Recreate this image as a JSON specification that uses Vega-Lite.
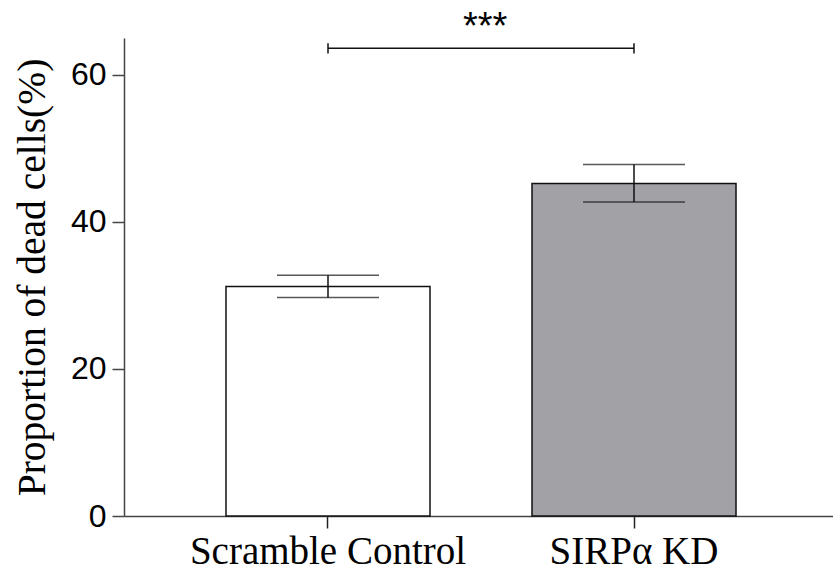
{
  "$schema": "https://vega.github.io/schema/vega-lite/v6.json",
  "width": 714,
  "height": 478,
  "autosize": {"type": "none"},
  "padding": {"left": 124, "top": 38, "right": 0, "bottom": 65},
  "background": "white",
  "config": {
    "view": {"stroke": null},
    "axis": {"grid": false}
  },
  "datasets": {
    "bars": [
      {"group": "Scramble Control", "mean": 31.2, "lo": 29.7, "hi": 32.75},
      {"group": "SIRPα KD", "mean": 45.2, "lo": 42.7, "hi": 47.8}
    ],
    "sig": [
      {"from": "Scramble Control", "to": "SIRPα KD", "y": 63.6, "ylo": 62.9, "yhi": 64.3, "label": "***", "ty": 66.3}
    ]
  },
  "layer": [
    {
      "data": {"name": "bars"},
      "mark": {"type": "bar", "stroke": "#111111", "strokeWidth": 1.5},
      "encoding": {
        "x": {
          "field": "group", "type": "nominal", "sort": null,
          "scale": {"type": "band", "domain": ["Scramble Control", "SIRPα KD"], "paddingInner": 0.3333, "paddingOuter": 0.3333},
          "axis": {
            "title": null, "labelAngle": 0, "labelFont": "Liberation Serif", "labelFontSize": 39, "labelLimit": 0,
            "labelColor": "#000000", "labelPadding": 4, "tickSize": 12, "tickWidth": 1.5, "tickColor": "#222222",
            "domainColor": "#444444", "domainWidth": 1.5
          }
        },
        "y": {
          "field": "mean", "type": "quantitative",
          "scale": {"domain": [0, 65], "nice": false, "zero": true},
          "axis": {
            "title": "Proportion of dead cells(%)", "titleFont": "Liberation Serif", "titleFontSize": 39.5,
            "titleFontWeight": "normal", "titleColor": "#000000", "titlePadding": 18,
            "values": [0, 20, 40, 60], "labelFont": "Liberation Sans", "labelFontSize": 32, "labelColor": "#000000",
            "labelPadding": 6, "tickSize": 12, "tickWidth": 1.5, "tickColor": "#444444",
            "domainColor": "#444444", "domainWidth": 1.5
          }
        },
        "color": {
          "field": "group", "type": "nominal",
          "scale": {"domain": ["Scramble Control", "SIRPα KD"], "range": ["#ffffff", "#a2a1a6"]},
          "legend": null
        }
      }
    },
    {
      "data": {"name": "bars"},
      "mark": {"type": "rule", "color": "#111111", "strokeWidth": 1.5},
      "encoding": {
        "x": {"field": "group", "type": "nominal"},
        "y": {"field": "lo", "type": "quantitative"},
        "y2": {"field": "hi"}
      }
    },
    {
      "data": {"name": "bars"},
      "mark": {"type": "tick", "color": "#111111", "thickness": 1.5, "size": 102, "orient": "horizontal"},
      "encoding": {
        "x": {"field": "group", "type": "nominal"},
        "y": {"field": "lo", "type": "quantitative"}
      }
    },
    {
      "data": {"name": "bars"},
      "mark": {"type": "tick", "color": "#111111", "thickness": 1.5, "size": 102, "orient": "horizontal"},
      "encoding": {
        "x": {"field": "group", "type": "nominal"},
        "y": {"field": "hi", "type": "quantitative"}
      }
    },
    {
      "data": {"name": "sig"},
      "mark": {"type": "rule", "color": "#111111", "strokeWidth": 1.5},
      "encoding": {
        "x": {"field": "from", "type": "nominal"},
        "x2": {"field": "to"},
        "y": {"field": "y", "type": "quantitative"}
      }
    },
    {
      "data": {"name": "sig"},
      "mark": {"type": "rule", "color": "#111111", "strokeWidth": 1.5},
      "encoding": {
        "x": {"field": "from", "type": "nominal"},
        "y": {"field": "ylo", "type": "quantitative"},
        "y2": {"field": "yhi"}
      }
    },
    {
      "data": {"name": "sig"},
      "mark": {"type": "rule", "color": "#111111", "strokeWidth": 1.5},
      "encoding": {
        "x": {"field": "to", "type": "nominal"},
        "y": {"field": "ylo", "type": "quantitative"},
        "y2": {"field": "yhi"}
      }
    },
    {
      "data": {"name": "sig"},
      "mark": {"type": "text", "font": "Liberation Sans", "fontSize": 38, "color": "#000000", "baseline": "middle", "align": "center", "letterSpacing": 2},
      "encoding": {
        "x": {"field": "from", "type": "nominal", "bandPosition": 1.27},
        "y": {"field": "ty", "type": "quantitative"},
        "text": {"field": "label"}
      }
    }
  ]
}
